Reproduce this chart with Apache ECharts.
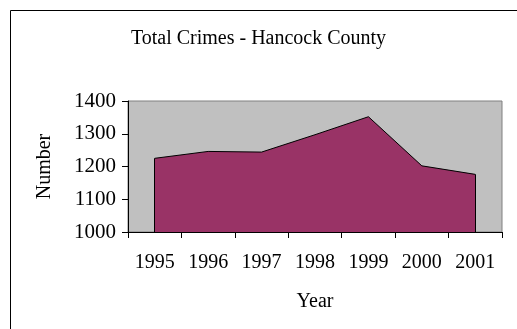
<!DOCTYPE html>
<html><head><meta charset="utf-8">
<script src="https://cdn.jsdelivr.net/npm/echarts@6/dist/echarts.min.js"></script>
<style>html,body{margin:0;padding:0;background:#fff}#c{width:517px;height:329px}</style>
</head><body><div id="c"></div>
<script>
var years = ['1995','1996','1997','1998','1999','2000','2001'];
var crimes = [1225, 1246, 1244, 1297, 1352, 1202, 1176];
var yTicks = [1000, 1100, 1200, 1300, 1400];
var titleText = 'Total Crimes - Hancock County';
var xName = 'Year';
var yName = 'Number';

var font = 'Liberation Serif, Times New Roman, serif';
var chart = echarts.init(document.getElementById('c'), null, {renderer:'canvas'});
var first = years.length - 1;
chart.setOption({
  animation: false,
  backgroundColor: '#fff',
  title: {text: titleText, left: 'center', top: 24, textStyle: {fontFamily: font, fontSize: 20, fontWeight: 'normal', color: '#000'}},
  graphic: [{type:'rect', shape:{x:10.5, y:10.5, width:520, height:330}, style:{fill:null, stroke:'#000', lineWidth:1}, silent:true}],
  grid: {left: 128, right: 15, top: 101, bottom: 97, show: true, backgroundColor: '#C0C0C0', borderColor: '#808080', borderWidth: 1},
  xAxis: {
    type: 'category', data: years, boundaryGap: true,
    name: xName, nameLocation: 'middle', nameGap: 60,
    nameTextStyle: {fontFamily: font, fontSize: 20, color: '#000'},
    axisLine: {lineStyle: {color: '#000', width: 1}},
    axisTick: {show: true, length: 6, interval: 0, lineStyle: {color: '#000'}},
    axisLabel: {fontFamily: font, fontSize: 20, color: '#000', margin: 21, interval: 0, hideOverlap: false}
  },
  yAxis: {
    type: 'value', min: yTicks[0], max: yTicks[yTicks.length-1], interval: 100,
    name: yName, nameLocation: 'middle', nameGap: 73, nameRotate: 90,
    nameTextStyle: {fontFamily: font, fontSize: 20, color: '#000'},
    axisLine: {show: true, lineStyle: {color: '#000', width: 1}},
    axisTick: {show: true, length: 6, lineStyle: {color: '#000'}},
    splitLine: {show: false},
    axisLabel: {fontFamily: font, fontSize: 21, color: '#000', margin: 12, formatter: function(v){return String(v);}}
  },
  series: [{
    type: 'line', data: crimes, symbol: 'none',
    lineStyle: {color: '#000', width: 1},
    areaStyle: {color: '#993366', opacity: 1, origin: 'start'},
    markLine: {
      silent: true, symbol: 'none', label: {show: false},
      lineStyle: {color: '#000', width: 1, type: 'solid'},
      data: [
        [{coord: [years[0], yTicks[0]]}, {coord: [years[0], crimes[0]]}],
        [{coord: [years[first], yTicks[0]]}, {coord: [years[first], crimes[first]]}]
      ]
    }
  }]
});
</script></body></html>
